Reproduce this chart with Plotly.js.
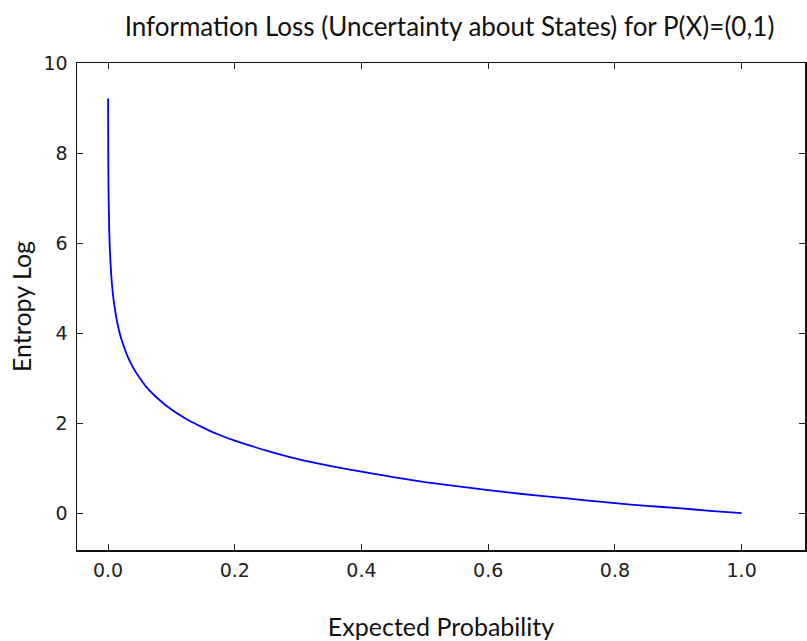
<!DOCTYPE html>
<html>
<head>
<meta charset="utf-8">
<script src="https://cdn.plot.ly/plotly-3.0.1.min.js"></script>
<style>html,body{margin:0;padding:0;background:#fff;}#chart{width:807px;height:641px;}</style>
</head>
<body>
<div id="chart"></div>
<script>
const probability = [0.0001, 0.0002, 0.0005, 0.001, 0.002, 0.003, 0.005, 0.0075, 0.01, 0.015, 0.02, 0.03, 0.04, 0.05, 0.06, 0.075, 0.1, 0.125, 0.15, 0.175, 0.2, 0.25, 0.3, 0.35, 0.4, 0.45, 0.5, 0.55, 0.6, 0.65, 0.7, 0.75, 0.8, 0.85, 0.9, 0.95, 1.0];
const entropyLog = [9.21, 8.52, 7.60, 6.91, 6.21, 5.81, 5.30, 4.89, 4.61, 4.20, 3.91, 3.51, 3.22, 3.00, 2.81, 2.59, 2.30, 2.08, 1.90, 1.74, 1.61, 1.39, 1.20, 1.05, 0.92, 0.80, 0.69, 0.60, 0.51, 0.43, 0.36, 0.29, 0.22, 0.16, 0.11, 0.05, 0.00];
const xTicks = [0.0, 0.2, 0.4, 0.6, 0.8, 1.0];
const xTickText = ["0.0", "0.2", "0.4", "0.6", "0.8", "1.0"];
const yTicks = [0, 2, 4, 6, 8, 10];

const trace = {
  x: probability, y: entropyLog, type: 'scatter', mode: 'lines',
  line: {color: '#0000ff', width: 1.8, shape: 'spline', smoothing: 0.6},
  hoverinfo: 'skip'
};
const tickFont = {family: 'DejaVu Sans', size: 19, color: '#222'};
const titleFont = {family: 'Lato', size: 26, color: '#111'};
const axisTitleFont = {family: 'Lato', size: 25, color: '#111'};
const layout = {
  width: 807, height: 641,
  margin: {l: 77, r: 2, t: 63, b: 91},
  paper_bgcolor: '#fff', plot_bgcolor: '#fff',
  showlegend: false,
  title: {text: 'Information Loss (Uncertainty about States) for P(X)=(0,1)', font: titleFont, x: 0.557, xanchor: 'center', y: 0.958, yanchor: 'middle'},
  xaxis: {
    range: [-0.049, 1.1], tickvals: xTicks, ticktext: xTickText,
    showgrid: false, zeroline: false,
    showline: true, linecolor: '#111', linewidth: 1.5, mirror: 'allticks',
    ticks: 'inside', ticklen: 6, tickwidth: 1, tickcolor: '#222',
    tickfont: tickFont, ticklabelstandoff: 3,
    title: {text: 'Expected Probability', font: axisTitleFont, standoff: 38}
  },
  yaxis: {
    range: [-0.82, 10], tickvals: yTicks,
    showgrid: false, zeroline: false,
    showline: true, linecolor: '#111', linewidth: 1.5, mirror: 'allticks',
    ticks: 'inside', ticklen: 6, tickwidth: 1, tickcolor: '#222',
    tickfont: tickFont, ticklabelstandoff: 4,
    title: {text: 'Entropy Log', font: axisTitleFont, standoff: 5}
  }
};
Plotly.newPlot('chart', [trace], layout, {displayModeBar: false, staticPlot: true});
</script>
</body>
</html>
